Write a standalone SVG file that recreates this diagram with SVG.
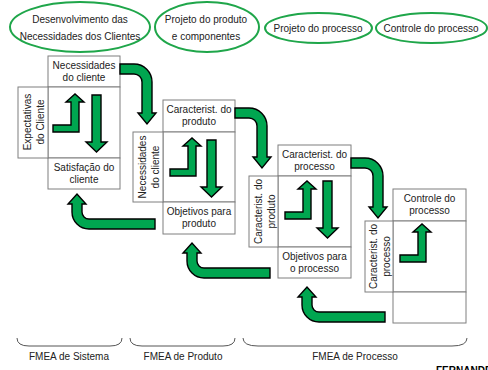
<svg xmlns="http://www.w3.org/2000/svg" xmlns:xlink="http://www.w3.org/1999/xlink" width="488" height="370" viewBox="0 0 488 370">
<style>
text{font-family:"Liberation Sans",Arial,sans-serif;font-size:10px;fill:#222;text-anchor:middle}
.ell{fill:none;stroke:#1fa64a;stroke-width:2}
.box{fill:#fff;stroke:#7f7f7f;stroke-width:1}
.arr{fill:#00a650;stroke:#000;stroke-width:1.4;stroke-linejoin:miter}
.brace{fill:none;stroke:#555;stroke-width:1}
.sig{font-weight:bold;text-anchor:start;fill:#000}
</style>
<defs>
<path id="upL" class="arr" d="M5,45 V38 H23 V15 H18 L27,7 L36,15 H31 V45 Z"/>
<path id="down" class="arr" d="M44,8 H53 V55 H59 L48.5,65 L38,55 H44 Z"/>
<path id="bendDown" class="arr" d="M0,8 H14 A18,18 0 0 1 32,26 V57 H36 L27,68 L18,57 H22 V26 A8,8 0 0 0 14,18 H0 Z"/>
<path id="bendUp" class="arr" d="M107,32 H41 A7,7 0 0 1 34,25 V17 H38 L29,7 L20,17 H24 V25 A17,17 0 0 0 41,42 H107 Z"/>
</defs>
<rect width="488" height="370" fill="#fff"/>

<g id="phase1">
<ellipse class="ell" cx="80" cy="27" rx="70" ry="25"/>
<text x="80" y="23">Desenvolvimento das</text>
<text x="80" y="40">Necessidades dos Clientes</text>
</g>
<g id="phase2">
<ellipse class="ell" cx="207" cy="27" rx="52" ry="25"/>
<text x="206" y="23">Projeto do produto</text>
<text x="206" y="40">e componentes</text>
</g>
<g id="phase3">
<ellipse class="ell" cx="318.5" cy="28" rx="53.5" ry="15"/>
<text x="318" y="32">Projeto do processo</text>
</g>
<g id="phase4">
<ellipse class="ell" cx="431.5" cy="28" rx="55.5" ry="15"/>
<text x="431" y="32">Controle do processo</text>
</g>

<g id="block1">
<rect class="box" x="48" y="56" width="72" height="31"/>
<rect class="box" x="48" y="87" width="72" height="71"/>
<rect class="box" x="48" y="158" width="72" height="31"/>
<rect class="box" x="18" y="87" width="30" height="71"/>
<text x="84" y="69">Necessidades</text>
<text x="84" y="81">do cliente</text>
<text x="84" y="171">Satisfação do</text>
<text x="84" y="183">cliente</text>
<text transform="translate(33,122) rotate(-90)"><tspan x="0" y="-2">Expectativas</tspan><tspan x="0" y="11">do Cliente</tspan></text>
</g>

<g id="block2">
<rect class="box" x="163" y="100" width="72" height="32"/>
<rect class="box" x="163" y="132" width="72" height="70"/>
<rect class="box" x="163" y="202" width="72" height="32"/>
<rect class="box" x="133" y="132" width="30" height="70"/>
<text x="199" y="113">Caracterist. do</text>
<text x="199" y="125">produto</text>
<text x="199" y="215">Objetivos para</text>
<text x="199" y="227">produto</text>
<text transform="translate(148,167) rotate(-90)"><tspan x="0" y="-2">Necessidades</tspan><tspan x="0" y="11">do cliente</tspan></text>
</g>

<g id="block3">
<rect class="box" x="278" y="145" width="73" height="31"/>
<rect class="box" x="278" y="176" width="73" height="71"/>
<rect class="box" x="278" y="247" width="73" height="31"/>
<rect class="box" x="249" y="176" width="29" height="71"/>
<text x="314.5" y="158">Caracterist. do</text>
<text x="314.5" y="170">processo</text>
<text x="314.5" y="260">Objetivos para</text>
<text x="314.5" y="272">o processo</text>
<text transform="translate(263.5,211.5) rotate(-90)"><tspan x="0" y="-2">Caracterist. do</tspan><tspan x="0" y="11">produto</tspan></text>
</g>

<g id="block4">
<rect class="box" x="393" y="189" width="73" height="32"/>
<rect class="box" x="393" y="221" width="73" height="71"/>
<rect class="box" x="393" y="292" width="73" height="31"/>
<rect class="box" x="365" y="221" width="28" height="71"/>
<text x="429.5" y="202">Controle do</text>
<text x="429.5" y="214">processo</text>
<text transform="translate(379,256.5) rotate(-90)"><tspan x="0" y="-2">Caracterist. do</tspan><tspan x="0" y="11">processo</tspan></text>
</g>

<g id="connectors">
<use xlink:href="#upL" transform="translate(48,87)"/>
<use xlink:href="#down" transform="translate(48,87)"/>
<use xlink:href="#upL" transform="translate(165,131)"/>
<use xlink:href="#down" transform="translate(163,132)"/>
<use xlink:href="#upL" transform="translate(280,174)"/>
<use xlink:href="#down" transform="translate(279,173)"/>
<use xlink:href="#upL" transform="translate(395,217)"/>
<use xlink:href="#bendDown" transform="translate(120,56)"/>
<use xlink:href="#bendDown" transform="translate(235,100)"/>
<use xlink:href="#bendDown" transform="translate(351,150)"/>
<use xlink:href="#bendUp" transform="translate(48,187)"/>
<use xlink:href="#bendUp" transform="translate(163,236)"/>
<use xlink:href="#bendUp" transform="translate(278,280)"/>
</g>

<g id="scopes">
<path class="brace" d="M17,338 Q17,346 29,346 H110 Q122,346 122,338"/>
<path class="brace" d="M130,338 Q130,346 142,346 H223 Q235,346 235,338"/>
<path class="brace" d="M243,338 Q243,346 258,346 H452 Q467,346 467,338"/>
<text x="69" y="360">FMEA de Sistema</text>
<text x="183" y="360">FMEA de Produto</text>
<text x="355" y="360">FMEA de Processo</text>
<text class="sig" x="436" y="374">FERNANDE</text>
</g>
</svg>
